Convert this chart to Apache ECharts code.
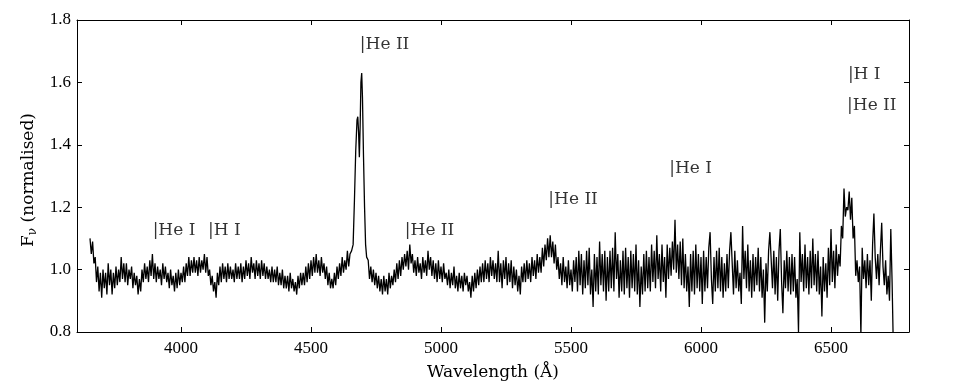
<!DOCTYPE html>
<html>
<head>
<meta charset="utf-8">
<script src="https://cdn.jsdelivr.net/npm/echarts@6/dist/echarts.min.js"></script>
<style>
  html, body { margin: 0; padding: 0; background: #fff; }
  #chart { width: 958px; height: 392px; }
</style>
</head>
<body>
<div id="chart"></div>
<script>
// spectrum sampled every 5 A, blue side of He II 4686 (3650 - 4650)
var blueStart = 3650;
var blueFlux = [
  1.10,1.05,1.09,1.02,1.04,0.96,1.01,0.93,0.99,0.91,1.00,0.94,0.99,0.92,1.02,0.95,1.00,0.92,0.99,0.94,
  1.01,0.95,1.00,0.96,1.04,0.97,1.02,0.96,1.02,0.95,1.00,0.97,1.01,0.94,0.99,0.95,0.98,0.92,0.97,0.93,
  1.00,0.96,1.02,0.97,1.01,0.96,1.03,0.98,1.05,0.97,1.02,0.96,1.01,0.97,1.00,0.95,1.02,0.97,1.01,0.96,
  0.99,0.94,1.00,0.95,0.98,0.93,0.99,0.94,1.00,0.95,0.99,0.96,1.01,0.96,1.02,0.98,1.04,0.98,1.03,0.99,
  1.04,0.99,1.03,0.98,1.04,0.99,1.03,1.00,1.05,0.99,1.04,0.98,1.00,0.95,0.98,0.93,0.96,0.91,0.99,0.95,
  1.01,0.96,1.02,0.97,1.01,0.96,1.02,0.97,1.01,0.97,1.00,0.96,1.02,0.97,1.01,0.97,1.02,0.96,1.01,0.97,
  1.03,0.98,1.02,0.97,1.04,0.99,1.02,0.97,1.03,0.98,1.02,0.97,1.03,0.98,1.02,0.97,1.01,0.97,1.00,0.96,
  1.01,0.96,1.00,0.96,1.01,0.95,0.99,0.95,1.00,0.94,0.98,0.94,0.98,0.93,0.99,0.94,0.97,0.93,0.96,0.92,
  0.98,0.94,0.99,0.95,0.99,0.95,1.01,0.96,1.02,0.97,1.03,0.98,1.04,0.99,1.05,0.99,1.03,0.98,1.04,0.99,
  1.02,0.97,1.01,0.95,0.99,0.94,0.97,0.94,0.99,0.95,1.01,0.97,1.02,0.98,1.04,0.99,1.03,1.00,1.06,1.01,1.05
];
// He II 4686 line core, finer sampling
var coreWave = [4656,4662,4667,4672,4677,4680,4683,4686,4689,4692,4695,4698,4702,4706,4710,4714];
var coreFlux = [1.06,1.08,1.22,1.38,1.48,1.49,1.44,1.36,1.46,1.60,1.63,1.55,1.36,1.20,1.08,1.04];
// red side, every 5 A (4720 - 6740)
var redStart = 4720;
var redFlux = [
  1.03,0.97,1.01,0.96,1.00,0.95,0.99,0.94,0.98,0.93,0.97,0.92,0.98,0.93,0.97,0.92,0.99,0.94,0.98,0.95,
  1.00,0.96,1.02,0.97,1.03,0.98,1.04,1.00,1.05,1.01,1.06,1.00,1.08,1.02,1.05,0.99,1.03,0.98,1.04,0.99,
  1.02,0.97,1.04,0.99,1.03,0.98,1.06,1.00,1.04,0.98,1.03,0.97,1.02,0.96,1.03,0.97,1.01,0.96,1.02,0.97,
  0.99,0.95,1.00,0.94,0.99,0.95,1.01,0.94,0.98,0.93,0.99,0.94,0.98,0.93,0.99,0.95,0.98,0.93,0.96,0.91,
  0.98,0.93,0.99,0.94,1.00,0.95,1.01,0.96,1.02,0.96,1.03,0.97,1.02,0.96,1.04,0.98,1.03,0.97,1.02,0.96,
  1.06,0.96,1.02,0.94,1.03,0.97,1.04,0.95,1.02,0.96,1.03,0.94,1.01,0.95,1.00,0.93,0.98,0.92,1.01,0.96,
  1.02,0.96,1.03,0.97,1.02,0.96,1.04,0.98,1.03,0.97,1.05,0.99,1.04,0.99,1.07,1.01,1.08,1.03,1.10,1.04,
  1.11,1.04,1.09,1.02,1.08,1.00,1.04,0.97,1.02,0.95,1.04,0.96,1.01,0.94,1.03,0.95,1.00,0.93,1.03,0.96,
  1.04,0.93,1.06,0.95,1.05,0.92,1.03,0.94,1.06,0.95,1.07,0.92,1.00,0.88,1.05,0.93,1.04,0.92,1.09,0.95,
  1.05,0.93,1.06,0.90,1.04,0.93,1.06,0.94,1.07,0.93,1.12,0.97,1.05,0.91,1.03,0.93,1.06,0.92,1.07,0.94,
  1.04,0.91,1.06,0.94,1.05,0.93,1.08,0.92,1.03,0.88,1.01,0.92,1.05,0.93,1.06,0.94,1.04,0.93,1.08,0.96,
  1.06,0.94,1.11,0.97,1.05,0.93,1.08,0.96,1.04,0.91,1.08,0.97,1.07,0.98,1.09,1.00,1.16,0.99,1.08,0.97,
  1.09,0.95,1.10,0.94,1.05,0.93,1.01,0.88,1.05,0.93,1.06,0.92,1.08,0.94,1.05,0.93,1.04,0.89,1.06,0.93,
  1.04,0.94,1.07,1.12,0.97,0.89,1.04,0.93,1.06,0.94,1.07,0.93,1.04,0.91,1.02,0.93,1.05,0.94,1.06,1.12,
  1.02,0.92,1.06,0.94,1.03,0.93,0.99,0.89,1.14,0.97,1.06,0.94,1.08,0.93,1.03,0.91,1.05,0.93,1.04,0.95,
  1.07,0.93,1.04,0.91,1.00,0.83,1.02,0.93,1.06,1.12,1.03,0.94,1.06,0.92,1.04,0.90,1.06,1.13,0.96,0.86,
  1.03,0.94,1.06,0.93,1.04,0.92,1.05,0.93,1.04,0.91,0.97,0.80,1.12,0.96,1.05,0.93,1.08,0.94,1.04,0.92,
  1.06,0.94,1.10,0.95,1.05,0.93,1.06,0.92,1.01,0.85,1.04,0.93,1.02,0.91,1.07,0.95,1.13,0.96,1.06,0.94,
  1.08,0.98,1.05,1.01,1.14,1.10,1.26,1.17,1.20,1.19,1.25,1.16,1.23,1.10,1.14,0.98,1.03,0.96,1.01,0.79,
  1.07,0.97,1.03,0.94,1.05,0.95,1.03,0.90,1.08,1.18,1.04,0.97,1.05,0.95,1.06,1.15,1.01,0.95,1.03,0.92,
  0.98,0.90,1.13,0.96,0.74
];
var sampleStep = 5;

// line identifications
var lineNames = ['He I', 'H I', 'He II', 'He II', 'He II', 'He I', 'H I', 'He II'];
var lineWave = [3889, 4102, 4686, 4859, 5411, 5876, 6563, 6560];
var lineLabelY = [1.125, 1.125, 1.72, 1.125, 1.225, 1.325, 1.625, 1.525];

var xTicks = [4000, 4500, 5000, 5500, 6000, 6500];

var spectrum = [];
for (var i = 0; i < blueFlux.length; i++) {
    spectrum.push([blueStart + i * sampleStep, blueFlux[i]]);
}
for (var i = 0; i < coreWave.length; i++) {
    spectrum.push([coreWave[i], coreFlux[i]]);
}
for (var i = 0; i < redFlux.length; i++) {
    spectrum.push([redStart + i * sampleStep, redFlux[i]]);
}

var labels = [];
for (var i = 0; i < lineNames.length; i++) {
    labels.push({ value: [lineWave[i], lineLabelY[i]], name: lineNames[i] });
}

var tickFont = 'Liberation Serif';
var textFont = 'DejaVu Serif';
var chart = echarts.init(document.getElementById('chart'), null, { renderer: 'canvas' });

var baseX = {
    type: 'value', min: 3600, max: 6800,
    splitLine: { show: false },
    axisLine: { show: true, onZero: false, lineStyle: { color: '#000', width: 1 } },
    axisTick: { show: true, inside: true, length: 5, customValues: xTicks, lineStyle: { color: '#000' } }
};
var baseY = {
    type: 'value', min: 0.8, max: 1.8, interval: 0.2,
    splitLine: { show: false },
    axisLine: { show: true, onZero: false, lineStyle: { color: '#000', width: 1 } },
    axisTick: { show: true, inside: true, length: 5, lineStyle: { color: '#000' } }
};

var option = {
    backgroundColor: '#fff',
    animation: false,
    grid: { left: 77, right: 49, top: 20, bottom: 60 },
    xAxis: [
        Object.assign({}, baseX, {
            position: 'bottom',
            name: 'Wavelength (Å)',
            nameLocation: 'middle',
            nameGap: 32,
            nameTextStyle: { fontFamily: textFont, fontSize: 17, color: '#000' },
            axisLabel: {
                show: true, customValues: xTicks, margin: 8,
                fontFamily: tickFont, fontSize: 17, color: '#000',
                formatter: function (v) { return String(v); }
            }
        }),
        Object.assign({}, baseX, { position: 'top', axisLabel: { show: false } })
    ],
    yAxis: [
        Object.assign({}, baseY, {
            position: 'left',
            name: 'F{sub|ν} (normalised)',
            nameLocation: 'middle',
            nameGap: 38,
            nameTextStyle: {
                fontFamily: textFont, fontSize: 17, color: '#000',
                padding: [0, 8, 0, 0],
                rich: { sub: { fontFamily: textFont, fontSize: 12, color: '#000', padding: [8, 0, 0, 0] } }
            },
            axisLabel: {
                margin: 6, fontFamily: tickFont, fontSize: 17, color: '#000',
                formatter: function (v) { return v.toFixed(1); }
            }
        }),
        Object.assign({}, baseY, { position: 'right', axisLabel: { show: false } })
    ],
    series: [
        {
            type: 'line',
            data: spectrum,
            showSymbol: false,
            symbol: 'none',
            clip: true,
            lineStyle: { color: '#000', width: 1.3 }
        },
        {
            type: 'scatter',
            data: labels,
            symbolSize: 1,
            itemStyle: { color: 'rgba(0,0,0,0)' },
            label: {
                show: true,
                position: 'right',
                distance: 0,
                fontFamily: textFont,
                fontSize: 17,
                color: '#000',
                formatter: function (p) { return '|' + p.name; }
            }
        }
    ]
};
chart.setOption(option);
</script>
</body>
</html>
